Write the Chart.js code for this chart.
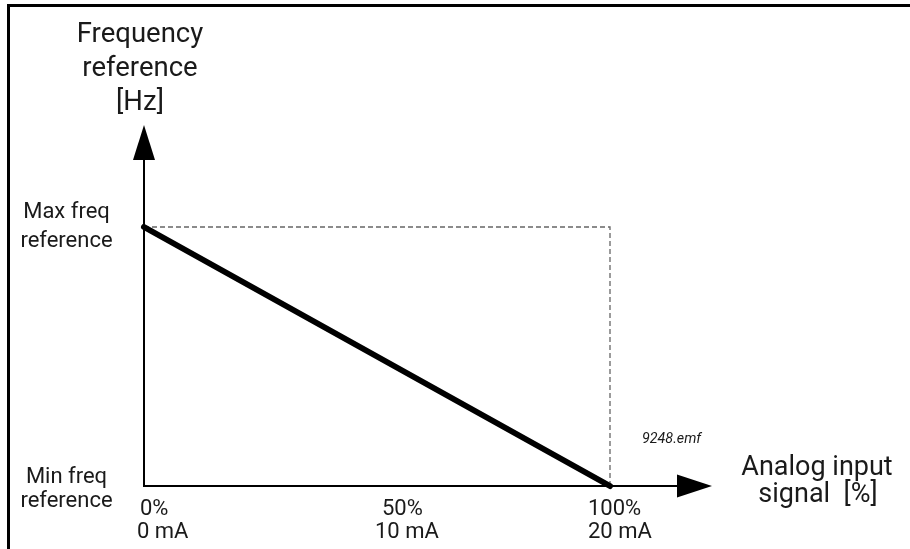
<!DOCTYPE html>
<html>
<head>
<meta charset="utf-8">
<script src="https://cdn.jsdelivr.net/npm/chart.js@4/dist/chart.umd.min.js"></script>
<style>
  html, body { margin: 0; padding: 0; background: #fff; }
  canvas { display: block; }
</style>
</head>
<body>
<canvas id="c" width="910" height="549"></canvas>
<script>
// ---- data ----
const xPercent = [0, 100];            // analog input signal [%]
const freqLevel = [1, 0];             // 1 = Max freq reference, 0 = Min freq reference
const guideX = [0, 100, 100];
const guideY = [1, 1, 0];
const tickPercent = ["0%", "50%", "100%"];
const tickMilliamp = ["0 mA", "10 mA", "20 mA"];
const tickValues = [0, 50, 100];
const yLevelLabels = [["Max freq", "reference"], ["Min freq", "reference"]];
const yLevelValues = [1, 0];
const yTitle = ["Frequency", "reference", "[Hz]"];
const xTitle = ["Analog input", "signal  [%]"];
const fileTag = "9248.emf";

const FONT = 'Roboto, "Liberation Sans", sans-serif';
const TXT = '#1a1a1a';

const decor = {
  id: 'decor',
  afterDatasetsDraw(chart) {
    const ctx = chart.ctx;
    const xs = chart.scales.x, ys = chart.scales.y;
    const x0 = xs.getPixelForValue(0);
    const y0 = ys.getPixelForValue(0);
    ctx.save();
    // frame (top & left)
    ctx.fillStyle = '#000';
    ctx.fillRect(7, 4, 903, 3);
    ctx.fillRect(7, 4, 3, 545);
    // axes
    ctx.strokeStyle = '#000';
    ctx.lineWidth = 2;
    ctx.beginPath();
    ctx.moveTo(x0, y0 + 1);
    ctx.lineTo(x0, 150);
    ctx.moveTo(x0 - 1, y0);
    ctx.lineTo(680, y0);
    ctx.stroke();
    // arrowheads
    ctx.beginPath();
    ctx.moveTo(x0, 125);
    ctx.lineTo(x0 + 11, 160);
    ctx.lineTo(x0 - 11, 160);
    ctx.closePath();
    ctx.fill();
    ctx.beginPath();
    ctx.moveTo(712, y0);
    ctx.lineTo(677, y0 - 11.5);
    ctx.lineTo(677, y0 + 11.5);
    ctx.closePath();
    ctx.fill();

    ctx.fillStyle = TXT;
    ctx.textBaseline = 'alphabetic';
    // y title
    ctx.textAlign = 'center';
    ctx.font = '27.5px ' + FONT;
    const tb = [42, 76, 110];
    yTitle.forEach((t, i) => ctx.fillText(t, 140, tb[i]));
    // level labels
    ctx.font = '22px ' + FONT;
    yLevelValues.forEach((v, i) => {
      const py = ys.getPixelForValue(v);
      const base = v === 1 ? py - 9 : py - 3;
      ctx.fillText(yLevelLabels[i][0], 66.5, base);
      ctx.fillText(yLevelLabels[i][1], 66.5, base + 29 - (v === 1 ? 0 : 5));
    });
    // tick labels
    ctx.textAlign = 'left';
    ctx.font = '22px ' + FONT;
    const offP = [-4, 5, -22];
    const offM = [-7, -2, -22];
    tickValues.forEach((v, i) => {
      const px = xs.getPixelForValue(v);
      ctx.fillText(tickPercent[i], px + offP[i], y0 + 29);
      ctx.fillText(tickMilliamp[i], px + offM[i], y0 + 52);
    });
    // x title
    ctx.textAlign = 'center';
    ctx.font = '27px ' + FONT;
    ctx.fillText(xTitle[0], 817, 475);
    ctx.fillText(xTitle[1], 818, 502);
    // file tag
    ctx.textAlign = 'left';
    ctx.font = 'italic 14.3px ' + FONT;
    ctx.fillText(fileTag, 642, 443);
    ctx.restore();
  }
};

new Chart(document.getElementById('c'), {
  type: 'scatter',
  data: {
    datasets: [
      {
        data: guideX.map((x, i) => ({ x, y: guideY[i] })),
        showLine: true,
        borderColor: '#666',
        borderWidth: 1.3,
        borderDash: [5, 3],
        pointRadius: 0,
        clip: false,
        order: 2
      },
      {
        data: xPercent.map((x, i) => ({ x, y: freqLevel[i] })),
        showLine: true,
        borderColor: '#000',
        borderWidth: 6,
        pointRadius: 0,
        borderCapStyle: 'round',
        clip: false,
        order: 1
      }
    ]
  },
  options: {
    responsive: false,
    animation: false,
    events: [],
    layout: { padding: { left: 144, right: 300, top: 227, bottom: 63 } },
    plugins: { legend: { display: false }, tooltip: { enabled: false } },
    scales: {
      x: { type: 'linear', min: 0, max: 100, display: false },
      y: { type: 'linear', min: 0, max: 1, display: false }
    }
  },
  plugins: [decor]
});
</script>
</body>
</html>
